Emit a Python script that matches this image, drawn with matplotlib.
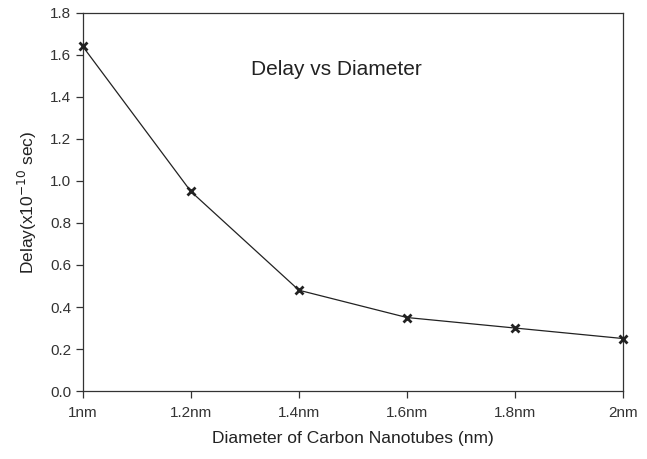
import numpy as np
import matplotlib.pyplot as plt

plt.rcParams['font.family'] = ['Liberation Sans', 'DejaVu Sans']

# dados
diametros = ['1nm', '1.2nm', '1.4nm', '1.6nm', '1.8nm', '2nm']
atraso = [1.64, 0.95, 0.48, 0.35, 0.30, 0.25]

fig = plt.figure(figsize=(6.47, 4.59), dpi=100)
ax = fig.add_axes([0.128, 0.148, 0.835, 0.824])

x = np.arange(len(diametros))
ax.plot(x, atraso, color='#222222', lw=0.9, marker='x', ms=6, mew=2, clip_on=False, zorder=5)

ax.set_xlim(0, len(diametros) - 1)
ax.set_ylim(0, 1.8)
ax.set_xticks(x)
ax.set_xticklabels(diametros)
ax.set_yticks(np.arange(0, 1.81, 0.2))
ax.set_yticklabels(['%.1f' % v for v in np.arange(0, 1.81, 0.2)])
ax.tick_params(direction='out', length=5, width=0.9, colors='#333333', labelsize=11)
ax.tick_params(axis='x', pad=6)
for s in ax.spines.values():
    s.set_color('#333333')
    s.set_linewidth(0.9)

ax.set_xlabel('Diameter of Carbon Nanotubes (nm)', fontsize=12.5, labelpad=8, color='#222222')
ax.set_ylabel('Delay(x10$^{-10}$ sec)', fontsize=12.5, labelpad=8, color='#222222')
ax.text(0.47, 0.85, 'Delay vs Diameter', transform=ax.transAxes, fontsize=15,
        ha='center', va='center', color='#222222')

fig.savefig('out.png', dpi=100)
